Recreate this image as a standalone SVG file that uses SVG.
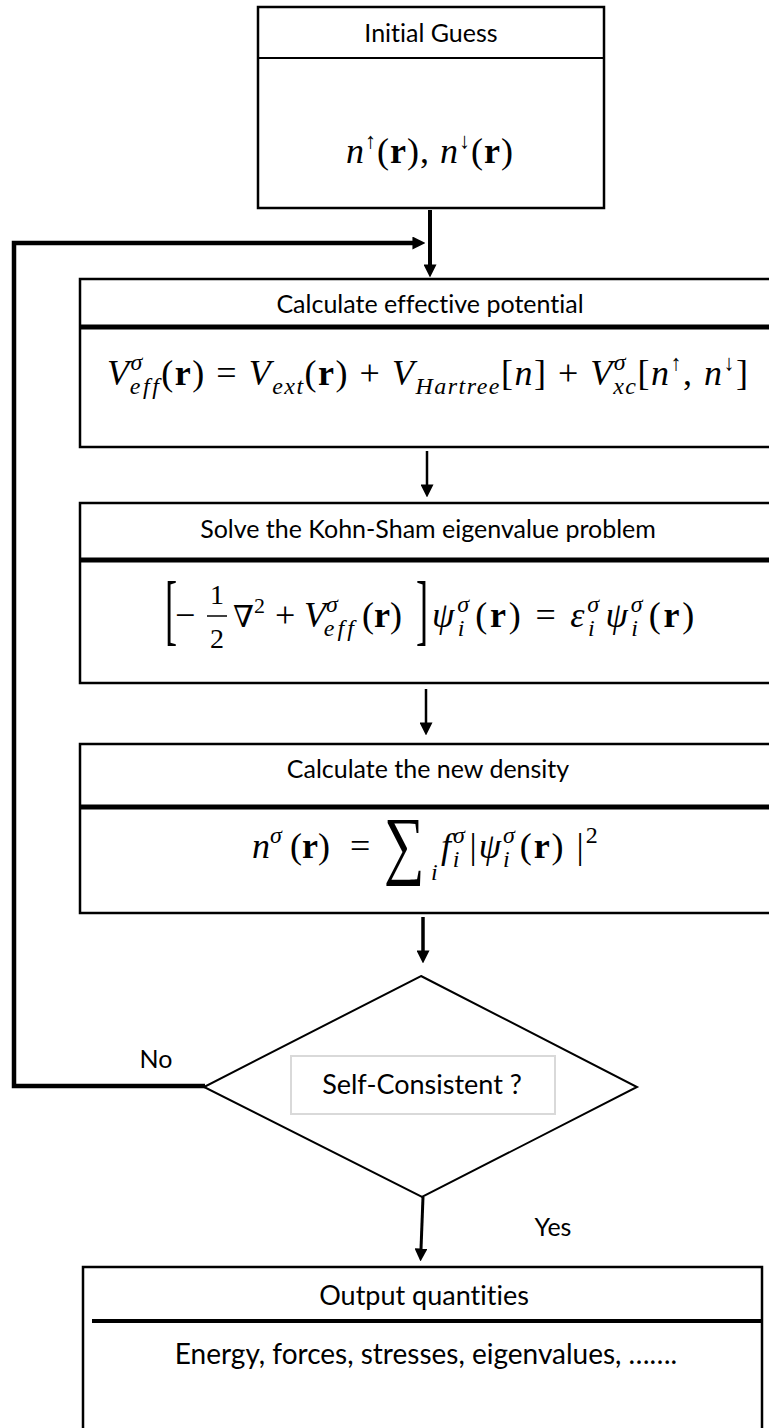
<svg xmlns="http://www.w3.org/2000/svg" width="769" height="1428" viewBox="0 0 769 1428">
<style>
.box{fill:#fff;stroke:#000;stroke-width:2.5}
.dv{stroke:#000;stroke-width:5}
.lbl{font-family:Lato,"Open Sans",sans-serif;font-size:25px;fill:#000;font-variant-ligatures:none;font-feature-settings:"liga" 0,"dlig" 0}
.m{font-family:"Liberation Serif","DejaVu Serif",serif;font-size:36px;fill:#000}
.i{font-style:italic}
.b{font-weight:bold}
.s{font-size:24px}
.cn{fill:none;stroke:#000}
</style>
<defs>
<marker id="ah" viewBox="0 0 12 12" refX="0.5" refY="6" markerWidth="13" markerHeight="13" markerUnits="userSpaceOnUse" orient="auto">
<path d="M0,0 L12,6 L0,12 z" fill="#000"/>
</marker>
</defs>
<rect width="769" height="1428" fill="#fff"/>

<g id="connectors">
<line class="cn" x1="430" y1="210" x2="430" y2="265" stroke-width="4" marker-end="url(#ah)"/>
<polyline class="cn" points="205,1086 14,1086 14,243 413,243" stroke-width="4.5" marker-end="url(#ah)"/>
<line class="cn" x1="427" y1="451" x2="427" y2="485" stroke-width="2.5" marker-end="url(#ah)"/>
<line class="cn" x1="426" y1="689" x2="426" y2="723" stroke-width="2.5" marker-end="url(#ah)"/>
<line class="cn" x1="423" y1="917" x2="423" y2="951" stroke-width="3.5" marker-end="url(#ah)"/>
<line class="cn" x1="423" y1="1197" x2="421" y2="1249" stroke-width="3" marker-end="url(#ah)"/>
</g>

<g id="initial-guess">
<rect class="box" x="258" y="7" width="346" height="201"/>
<line x1="258" y1="58" x2="604" y2="58" stroke="#000" stroke-width="2"/>
<text class="lbl" x="431" y="42" text-anchor="middle">Initial Guess</text>
<text class="m" x="430" y="163" text-anchor="middle" letter-spacing="1"><tspan class="i">n</tspan><tspan font-size="22" dy="-15">↑</tspan><tspan dy="15">(</tspan><tspan class="b">r</tspan><tspan>), </tspan><tspan class="i">n</tspan><tspan font-size="22" dy="-15">↓</tspan><tspan dy="15">(</tspan><tspan class="b">r</tspan><tspan>)</tspan></text>
</g>

<g id="effective-potential">
<rect class="box" x="80" y="279" width="700" height="168"/>
<line class="dv" x1="80" y1="327" x2="769" y2="327"/>
<text class="lbl" x="430" y="313" text-anchor="middle">Calculate effective potential</text>
<text class="m" x="107" y="385" letter-spacing="1.5"><tspan class="i">V</tspan><tspan class="i s" dy="-15">σ</tspan><tspan class="i s" dx="-14" dy="24" letter-spacing="2.5">eff</tspan><tspan dy="-9">(</tspan><tspan class="b">r</tspan><tspan>) = </tspan><tspan class="i">V</tspan><tspan class="i s" dy="9">ext</tspan><tspan dy="-9">(</tspan><tspan class="b">r</tspan><tspan>) + </tspan><tspan class="i">V</tspan><tspan class="i s" dy="9">Hartree</tspan><tspan dy="-9">[</tspan><tspan class="i">n</tspan><tspan>] + </tspan><tspan class="i">V</tspan><tspan class="i s" dy="-15">σ</tspan><tspan class="i s" dx="-14" dy="24">xc</tspan><tspan dy="-9">[</tspan><tspan class="i">n</tspan><tspan font-size="22" dy="-15">↑</tspan><tspan dy="15">, </tspan><tspan class="i">n</tspan><tspan font-size="22" dy="-15">↓</tspan><tspan dy="15">]</tspan></text>
</g>

<g id="kohn-sham">
<rect class="box" x="80" y="503" width="700" height="180"/>
<line class="dv" x1="80" y1="560" x2="769" y2="560"/>
<text class="lbl" x="428" y="538" text-anchor="middle">Solve the Kohn-Sham eigenvalue problem</text>
<text class="m" transform="translate(165,636) scale(0.7,1.5)" style="font-size:52px">[</text>
<text class="m" x="175" y="627">−</text>
<line x1="207" y1="616" x2="227" y2="616" stroke="#000" stroke-width="1.5"/>
<text class="m" x="217" y="604" text-anchor="middle" style="font-size:28px">1</text>
<text class="m" x="217" y="648" text-anchor="middle" style="font-size:28px">2</text>
<text class="m" x="233" y="627"><tspan font-size="30">∇</tspan><tspan font-size="22" dy="-14">2</tspan><tspan x="275" dy="14">+</tspan><tspan class="i" x="304">V</tspan><tspan class="i s" dy="-15">σ</tspan><tspan class="i s" dx="-14" dy="24" letter-spacing="3">eff</tspan><tspan x="362" dy="-9">(</tspan><tspan class="b">r</tspan><tspan>)</tspan></text>
<text class="m" transform="translate(416,636) scale(0.7,1.5)" style="font-size:52px">]</text>
<text class="m" x="432" y="627" letter-spacing="2.8"><tspan class="i">ψ</tspan><tspan class="i s" dy="-15">σ</tspan><tspan class="i s" dx="-14" dy="24">i</tspan><tspan dx="8" dy="-9">(</tspan><tspan class="b">r</tspan><tspan>) = </tspan><tspan class="i">ε</tspan><tspan class="i s" dy="-15">σ</tspan><tspan class="i s" dx="-14" dy="24">i</tspan><tspan class="i" dx="8" dy="-9">ψ</tspan><tspan class="i s" dy="-15">σ</tspan><tspan class="i s" dx="-14" dy="24">i</tspan><tspan dx="8" dy="-9">(</tspan><tspan class="b">r</tspan><tspan>)</tspan></text>
</g>

<g id="new-density">
<rect class="box" x="80" y="744" width="700" height="169"/>
<line class="dv" x1="80" y1="807" x2="769" y2="807"/>
<text class="lbl" x="428" y="778" text-anchor="middle">Calculate the new density</text>
<text class="m" x="252" y="858"><tspan class="i">n</tspan><tspan class="i s" dy="-15">σ</tspan><tspan x="290" dy="15">(</tspan><tspan class="b">r</tspan><tspan>)</tspan><tspan x="350">=</tspan></text>
<text class="m" transform="translate(384,870) scale(0.75,1)" style="font-size:76px">∑</text>
<text class="m i s" x="431" y="880">i</text>
<text class="m" x="441" y="858" letter-spacing="2"><tspan class="i">f</tspan><tspan class="i s" dy="-15">σ</tspan><tspan class="i s" dx="-14" dy="24">i</tspan><tspan dx="8" dy="-9">|</tspan><tspan class="i">ψ</tspan><tspan class="i s" dy="-15">σ</tspan><tspan class="i s" dx="-14" dy="24">i</tspan><tspan dx="8" dy="-9">(</tspan><tspan class="b">r</tspan><tspan>) |</tspan><tspan class="s" dy="-15">2</tspan></text>
</g>

<g id="self-consistent">
<polygon points="421,976 637,1087 422,1197 204,1087" fill="#fff" stroke="#000" stroke-width="2"/>
<rect x="291" y="1056" width="264" height="58" fill="#fff" stroke="#d9d9d9" stroke-width="2"/>
<text class="lbl" x="422" y="1094" text-anchor="middle" style="font-size:27px">Self-Consistent ?</text>
</g>

<g id="labels">
<text class="lbl" x="156" y="1068" text-anchor="middle">No</text>
<text class="lbl" x="553" y="1236" text-anchor="middle">Yes</text>
</g>

<g id="output">
<rect class="box" x="83" y="1267" width="679" height="200"/>
<line x1="92" y1="1321" x2="762" y2="1321" stroke="#000" stroke-width="4"/>
<text class="lbl" x="424" y="1305" text-anchor="middle" style="font-size:27px">Output quantities</text>
<text class="lbl" x="426" y="1364" text-anchor="middle" style="font-size:28px">Energy, forces, stresses, eigenvalues, …….</text>
</g>
</svg>
